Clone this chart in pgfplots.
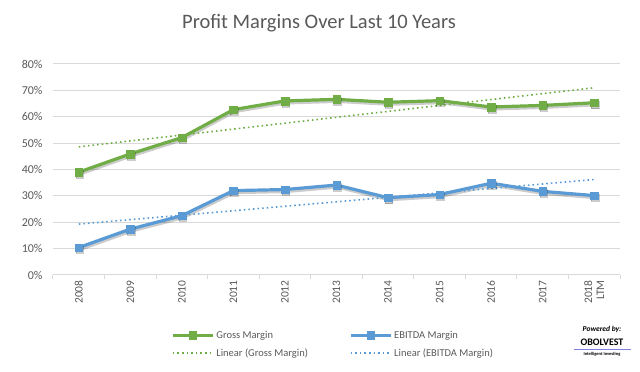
\documentclass[border=0pt]{standalone}
\usepackage{pgfplots}
\pgfplotsset{compat=1.18}
\usepackage{fontspec}
\setmainfont{Carlito}
\definecolor{gm}{HTML}{70AD47}
\definecolor{eb}{HTML}{5B9BD5}
\definecolor{txt}{HTML}{595959}
\definecolor{grd}{HTML}{D9D9D9}
\definecolor{logo}{HTML}{8080E0}
\begin{document}
\begin{tikzpicture}[x=1pt,y=1pt]
\useasboundingbox (0,0) rectangle (640,372);
\begin{axis}[
  at={(53pt,97pt)}, anchor=south west,
  scale only axis, width=567pt, height=211pt,
  xmin=-0.5, xmax=10.5, ymin=0, ymax=80,
  clip=false,
  /pgf/number format/assume math mode=true,
  axis x line*=bottom, axis y line*=left,
  y axis line style={draw=none},
  x axis line style={draw=grd, line width=1pt},
  ytick={0,10,...,80},
  yticklabel={\pgfmathprintnumber{\tick}\%},
  ymajorgrids, grid style={grd, line width=1pt},
  major y tick style={draw=none},
  xtick={0,...,10},
  xticklabels={2008,2009,2010,2011,2012,2013,2014,2015,2016,2017,{2018\\LTM}},
  minor xtick={-0.5,0.5,...,10.5},
  major x tick style={draw=none},
  minor x tick style={draw=grd, line width=1pt},
  minor tick length=4pt,
  tick align=outside,
  xticklabel style={rotate=90, anchor=east, align=right, font=\fontsize{11.5}{12}\selectfont, text=txt, inner sep=1pt},
  yticklabel style={font=\fontsize{12}{12}\selectfont, text=txt, inner sep=1pt, xshift=-5pt},
  legend columns=2,
  legend cell align=left,
  legend style={draw=none, fill=none, at={(axis description cs:0.2028,-0.245)}, anchor=north west,
     font=\fontsize{10.5}{12}\selectfont, text=txt, row sep=5pt,
     /tikz/every even column/.append style={column sep=39pt}},
  legend image code/.code={\draw[mark repeat=2,mark phase=2,#1] plot coordinates {(0pt,0pt) (20pt,0pt) (40pt,0pt)};},
]
% shadows
\addplot[forget plot, black, opacity=0.2, line width=3.2pt, mark=square*, mark size=3.8pt, mark options={line width=0.3pt}, yshift=-2pt, xshift=0.8pt]
  coordinates {(0,39.0) (1,45.9) (2,52.1) (3,62.7) (4,66.0) (5,66.6) (6,65.5) (7,66.1) (8,63.7) (9,64.3) (10,65.3)};
\addplot[forget plot, black, opacity=0.2, line width=3.2pt, mark=square*, mark size=3.8pt, mark options={line width=0.3pt}, yshift=-2pt, xshift=0.8pt]
  coordinates {(0,10.4) (1,17.4) (2,22.5) (3,32.0) (4,32.4) (5,34.1) (6,29.3) (7,30.5) (8,34.8) (9,31.7) (10,30.1)};
% main series
\addplot[gm, line width=3.2pt, mark=square*, mark size=3.8pt, mark options={solid, line width=0.3pt}]
  coordinates {(0,39.0) (1,45.9) (2,52.1) (3,62.7) (4,66.0) (5,66.6) (6,65.5) (7,66.1) (8,63.7) (9,64.3) (10,65.3)};
\addlegendentry{Gross Margin}
\addplot[eb, line width=3.2pt, mark=square*, mark size=3.8pt, mark options={solid, line width=0.3pt}]
  coordinates {(0,10.4) (1,17.4) (2,22.5) (3,32.0) (4,32.4) (5,34.1) (6,29.3) (7,30.5) (8,34.8) (9,31.7) (10,30.1)};
\addlegendentry{EBITDA Margin}
% trend lines
\addplot[gm, line width=1.6pt, dash pattern=on 1.6pt off 3pt, no marks]
  coordinates {(0,48.6) (10,71.0)};
\addlegendentry{Linear (Gross Margin)}
\addplot[eb, line width=1.6pt, dash pattern=on 1.6pt off 3pt, no marks]
  coordinates {(0,19.3) (10,36.2)};
\addlegendentry{Linear (EBITDA Margin)}
\end{axis}
\node[text=txt, font=\fontsize{20.5}{22}\selectfont] at (319,349) {Profit Margins Over Last 10 Years};
\node[font=\fontsize{7.5}{8}\selectfont\bfseries\itshape] at (602,43) {Powered by:};
\node[font=\fontsize{10}{11}\selectfont\bfseries] at (602,30) {OBOLVEST};
\draw[logo, line width=0.8pt] (574,23) -- (631,23);
\node[font=\fontsize{4.5}{5}\selectfont\bfseries] at (602,18) {Intelligent Investing};
\end{tikzpicture}
\end{document}
